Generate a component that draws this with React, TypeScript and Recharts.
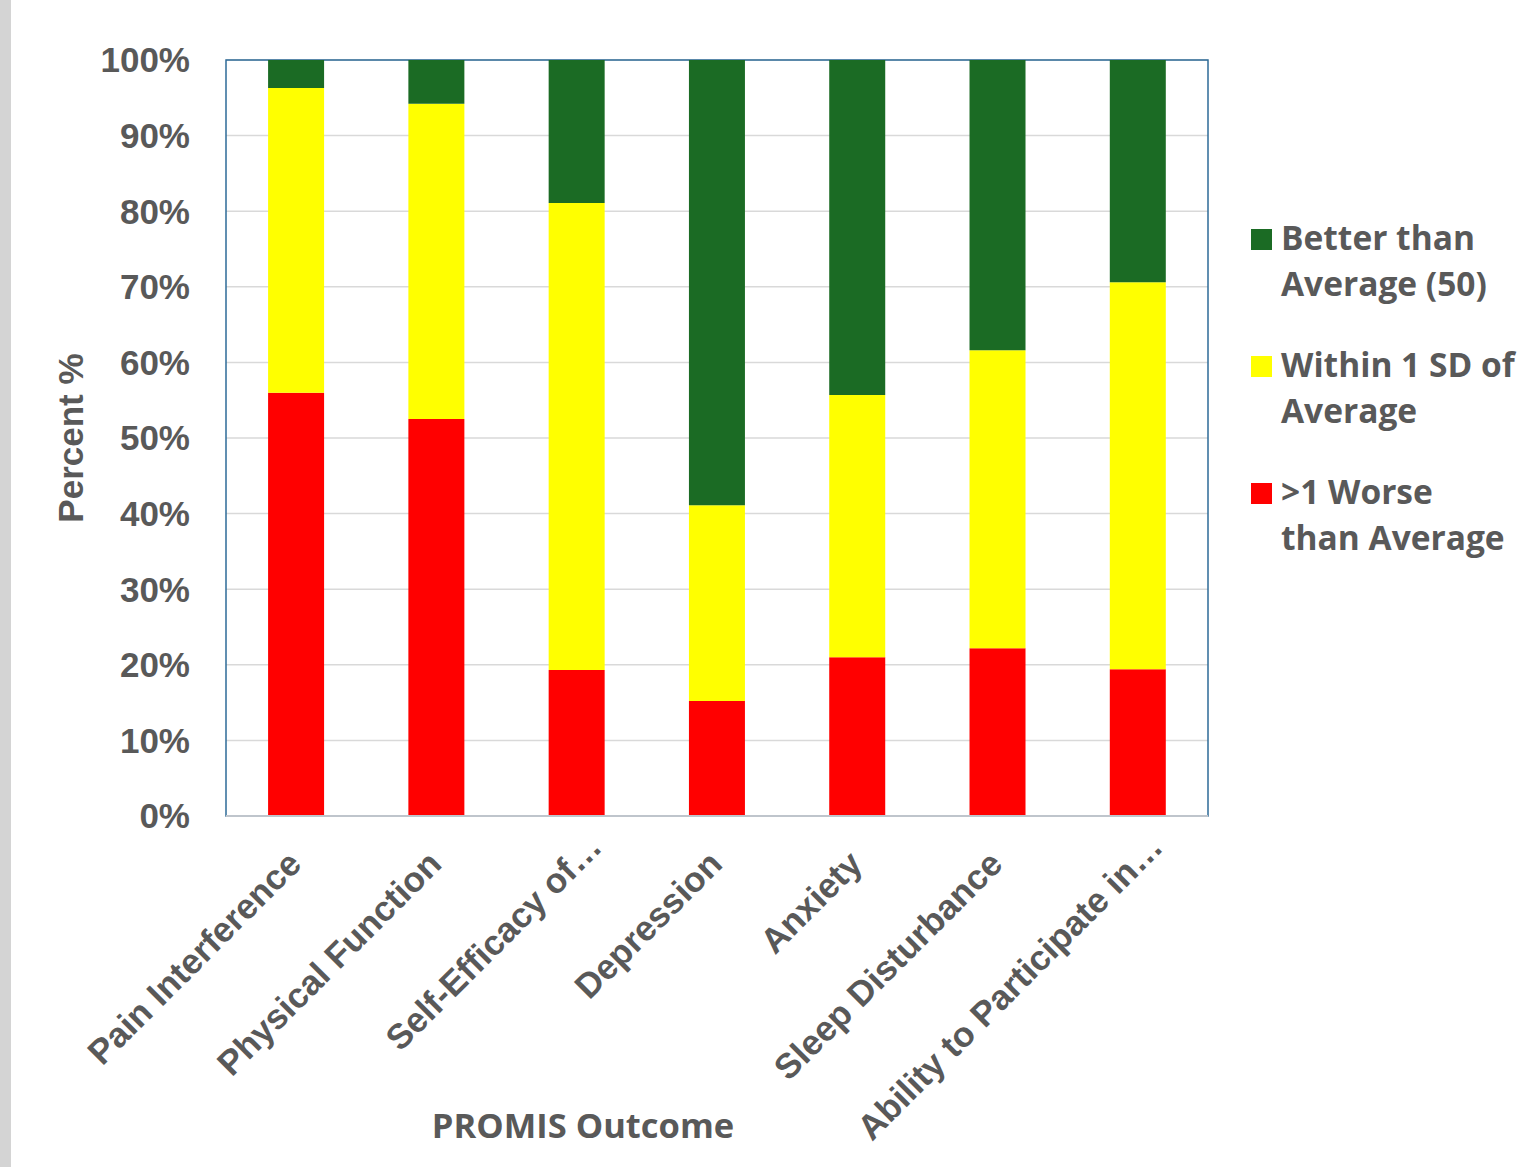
import React from 'react';
import { BarChart, Bar, XAxis, YAxis, CartesianGrid, Legend, ReferenceArea } from 'recharts';

const categories = [
  'Pain Interference',
  'Physical Function',
  'Self-Efficacy of…',
  'Depression',
  'Anxiety',
  'Sleep Disturbance',
  'Ability to Participate in…',
];
const worseValues = [56.0, 52.5, 19.3, 15.2, 21.0, 22.2, 19.4];
const withinValues = [40.3, 41.7, 61.8, 25.9, 34.7, 39.4, 51.2];
const betterValues = [3.7, 5.8, 18.9, 58.9, 44.3, 38.4, 29.4];
const yTicks = [0, 10, 20, 30, 40, 50, 60, 70, 80, 90, 100];

const seriesNames = {
  worse: '>1 Worse than Average',
  within: 'Within 1 SD of Average',
  better: 'Better than Average (50)',
};
const legendOrder = ['better', 'within', 'worse'];
const legendLines: Record<string, string[]> = {
  better: ['Better than', 'Average (50)'],
  within: ['Within 1 SD of', 'Average'],
  worse: ['>1 Worse', 'than Average'],
};

const data = categories.map((c, i) => ({
  name: c,
  worse: worseValues[i],
  within: withinValues[i],
  better: betterValues[i],
}));

const TEXT = '#595959';
const ARIAL = '"Liberation Sans", Arial, sans-serif';
const SANS = '"Open Sans", "Noto Sans", sans-serif';

const CatTick = (props: any) => {
  const { x, y, payload } = props;
  const label = String(payload.value);
  const ell = label.endsWith('…');
  const ax = x + (ell ? 27 : 7);
  const ay = y + (ell ? 33 : 50);
  return (
    <text
      x={ax}
      y={ay}
      transform={`rotate(-45, ${ax}, ${ay})`}
      textAnchor="end"
      fill={TEXT}
      fontFamily={ARIAL}
      fontWeight={700}
      fontSize={35}
    >
      {label}
    </text>
  );
};

const YLabel = (props: any) => {
  const vb = props.viewBox || { x: 0, y: 0, height: 0 };
  const cx = 70;
  const cy = vb.y + vb.height / 2;
  return (
    <text
      x={cx}
      y={cy}
      transform={`rotate(-90, ${cx}, ${cy})`}
      textAnchor="middle"
      dominantBaseline="central"
      fill={TEXT}
      fontFamily={ARIAL}
      fontWeight={700}
      fontSize={35}
    >
      Percent %
    </text>
  );
};

const XLabel = (props: any) => {
  const vb = props.viewBox || { x: 0, y: 0 };
  return (
    <text
      x={vb.x + 357}
      y={vb.y + 308}
      textAnchor="middle"
      dominantBaseline="central"
      fill={TEXT}
      fontFamily={SANS}
      fontWeight={700}
      fontSize={34.5}
    >
      PROMIS Outcome
    </text>
  );
};

const LegendContent = (props: any) => {
  const items = legendOrder
    .map((k) => (props.payload || []).find((p: any) => p.dataKey === k))
    .filter(Boolean);
  return (
    <div style={{ fontFamily: SANS, fontWeight: 700, fontSize: 33.5, color: TEXT }}>
      {items.map((p: any) => (
        <div key={p.dataKey} style={{ display: 'flex', alignItems: 'flex-start', marginBottom: 35 }}>
          <div style={{ width: 21, height: 21, background: p.color, marginTop: 15, marginRight: 9, flex: 'none' }} />
          <div style={{ lineHeight: '46px', whiteSpace: 'nowrap' }}>
            {(legendLines[p.dataKey] || [p.value]).map((l) => (
              <div key={l}>{l}</div>
            ))}
          </div>
        </div>
      ))}
    </div>
  );
};

export default function App() {
  return (
    <div style={{ position: 'absolute', left: 0, top: 0, width: 1521, height: 1167, background: '#fff', overflow: 'hidden' }}>
      <div style={{ position: 'absolute', left: 0, top: 0, width: 11, height: 1167, background: '#d4d4d4' }} />
      <BarChart
        width={1521}
        height={1167}
        data={data}
        margin={{ top: 60, right: 313, bottom: 0, left: 0 }}
        barCategoryGap="30%"
      >
        <CartesianGrid vertical={false} stroke="#d9d9d9" strokeWidth={1.5} />
        <ReferenceArea y1={0} y2={100} fill="none" stroke="#2e6b98" strokeWidth={1.5} ifOverflow="visible" />
        <XAxis
          dataKey="name"
          height={351}
          interval={0}
          tickLine={false}
          tickSize={0}
          tickMargin={0}
          axisLine={{ stroke: '#bfc5cc', strokeWidth: 2 }}
          tick={<CatTick />}
          label={<XLabel />}
        />
        <YAxis
          width={226}
          domain={[0, 100]}
          ticks={yTicks}
          tickFormatter={(v) => `${v}%`}
          tickLine={false}
          axisLine={false}
          tickSize={0}
          tickMargin={36}
          tick={{ fill: TEXT, fontFamily: ARIAL, fontWeight: 700, fontSize: 35 }}
          label={<YLabel />}
        />
        <Legend
          layout="vertical"
          align="center"
          verticalAlign="middle"
          content={<LegendContent />}
          wrapperStyle={{ position: 'absolute', left: 1251, top: 214, width: 270 }}
        />
        <Bar dataKey="worse" name={seriesNames.worse} stackId="a" fill="#ff0000" isAnimationActive={false} />
        <Bar dataKey="within" name={seriesNames.within} stackId="a" fill="#ffff00" isAnimationActive={false} />
        <Bar dataKey="better" name={seriesNames.better} stackId="a" fill="#1b6b24" isAnimationActive={false} />
      </BarChart>
    </div>
  );
}
